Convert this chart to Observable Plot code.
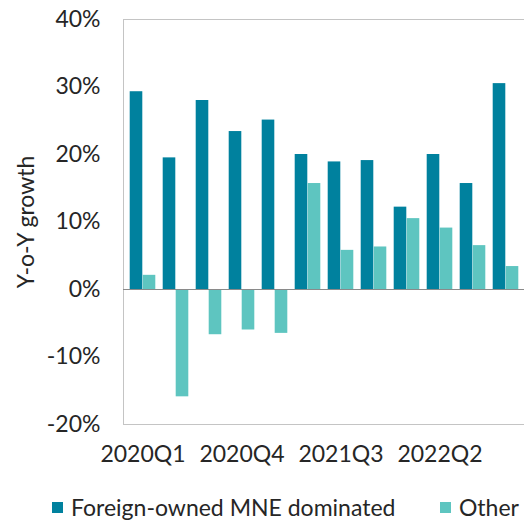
<!DOCTYPE html>
<html><head><meta charset="utf-8">
<script src="https://cdn.jsdelivr.net/npm/d3@7"></script>
<script src="https://cdn.jsdelivr.net/npm/@observablehq/plot@0.6"></script>
<style>
body{margin:0;background:#fff;font-family:Lato,sans-serif;}
#legend{position:relative;height:47px;font-size:23px;color:#262626;}
#legend span.item{position:absolute;top:15px;display:flex;align-items:center;gap:8px;white-space:nowrap;}
#legend span.sw{display:inline-block;width:11px;height:11px;}
</style>
</head><body><div id="chart"></div><div id="legend"></div>
<script>
const quarters = ["2020Q1","2020Q2","2020Q3","2020Q4","2021Q1","2021Q2","2021Q3","2021Q4","2022Q1","2022Q2","2022Q3","2022Q4"];
const series = ["Foreign-owned MNE dominated","Other"];
const foreignMNE = [29.3,19.5,28.0,23.4,25.1,20.0,18.9,19.1,12.2,20.0,15.7,30.5];
const other = [2.1,-15.9,-6.7,-6.0,-6.5,15.7,5.8,6.3,10.5,9.1,6.5,3.4];
const yTicks = [-0.2,-0.1,0,0.1,0.2,0.3,0.4];
const xTickLabels = ["2020Q1","2020Q4","2021Q3","2022Q2"];
const colors = ["#00819e","#5ec5c0"];

const dataMNE = quarters.map((q,i)=>({quarter:q, series:series[0], value:foreignMNE[i]/100}));
const dataOther = quarters.map((q,i)=>({quarter:q, series:series[1], value:other[i]/100}));

const chart = Plot.plot({
  width:524, height:478,
  marginTop:19, marginBottom:54, marginLeft:123, marginRight:0,
  style:{fontFamily:"Lato", fontSize:"23px", color:"#262626", background:"white", overflow:"visible"},
  x:{domain:quarters, padding:0, label:null, tickSize:0, tickPadding:21,
     tickFormat:d => xTickLabels.includes(d) ? d : ""},
  y:{domain:[-0.2,0.4], ticks:yTicks, tickFormat:d => Math.round(d*100)+"%", tickSize:0, tickPadding:23,
     label:"Y-o-Y growth", labelArrow:"none", labelAnchor:"center", labelOffset:106},
  color:{domain:series, range:colors},
  marks:[
    Plot.frame({stroke:"#c4c4c4"}),
    Plot.barY(dataMNE,{x:"quarter", y:"value", fill:"series", insetLeft:3.7, insetRight:16.7}),
    Plot.barY(dataOther,{x:"quarter", y:"value", fill:"series", insetLeft:16.7, insetRight:3.7}),
    Plot.ruleY([0],{stroke:"#8a8a8a", strokeWidth:1.2})
  ]
});
document.getElementById("chart").appendChild(chart);

const legend = document.getElementById("legend");
const legendLeft = [52, 440];
series.forEach((s,i)=>{
  const item = document.createElement("span");
  item.className="item";
  item.style.left = legendLeft[i] + "px";
  const sw = document.createElement("span");
  sw.className="sw"; sw.style.background=colors[i];
  item.appendChild(sw);
  item.appendChild(document.createTextNode(s));
  legend.appendChild(item);
});
</script>
</body></html>
